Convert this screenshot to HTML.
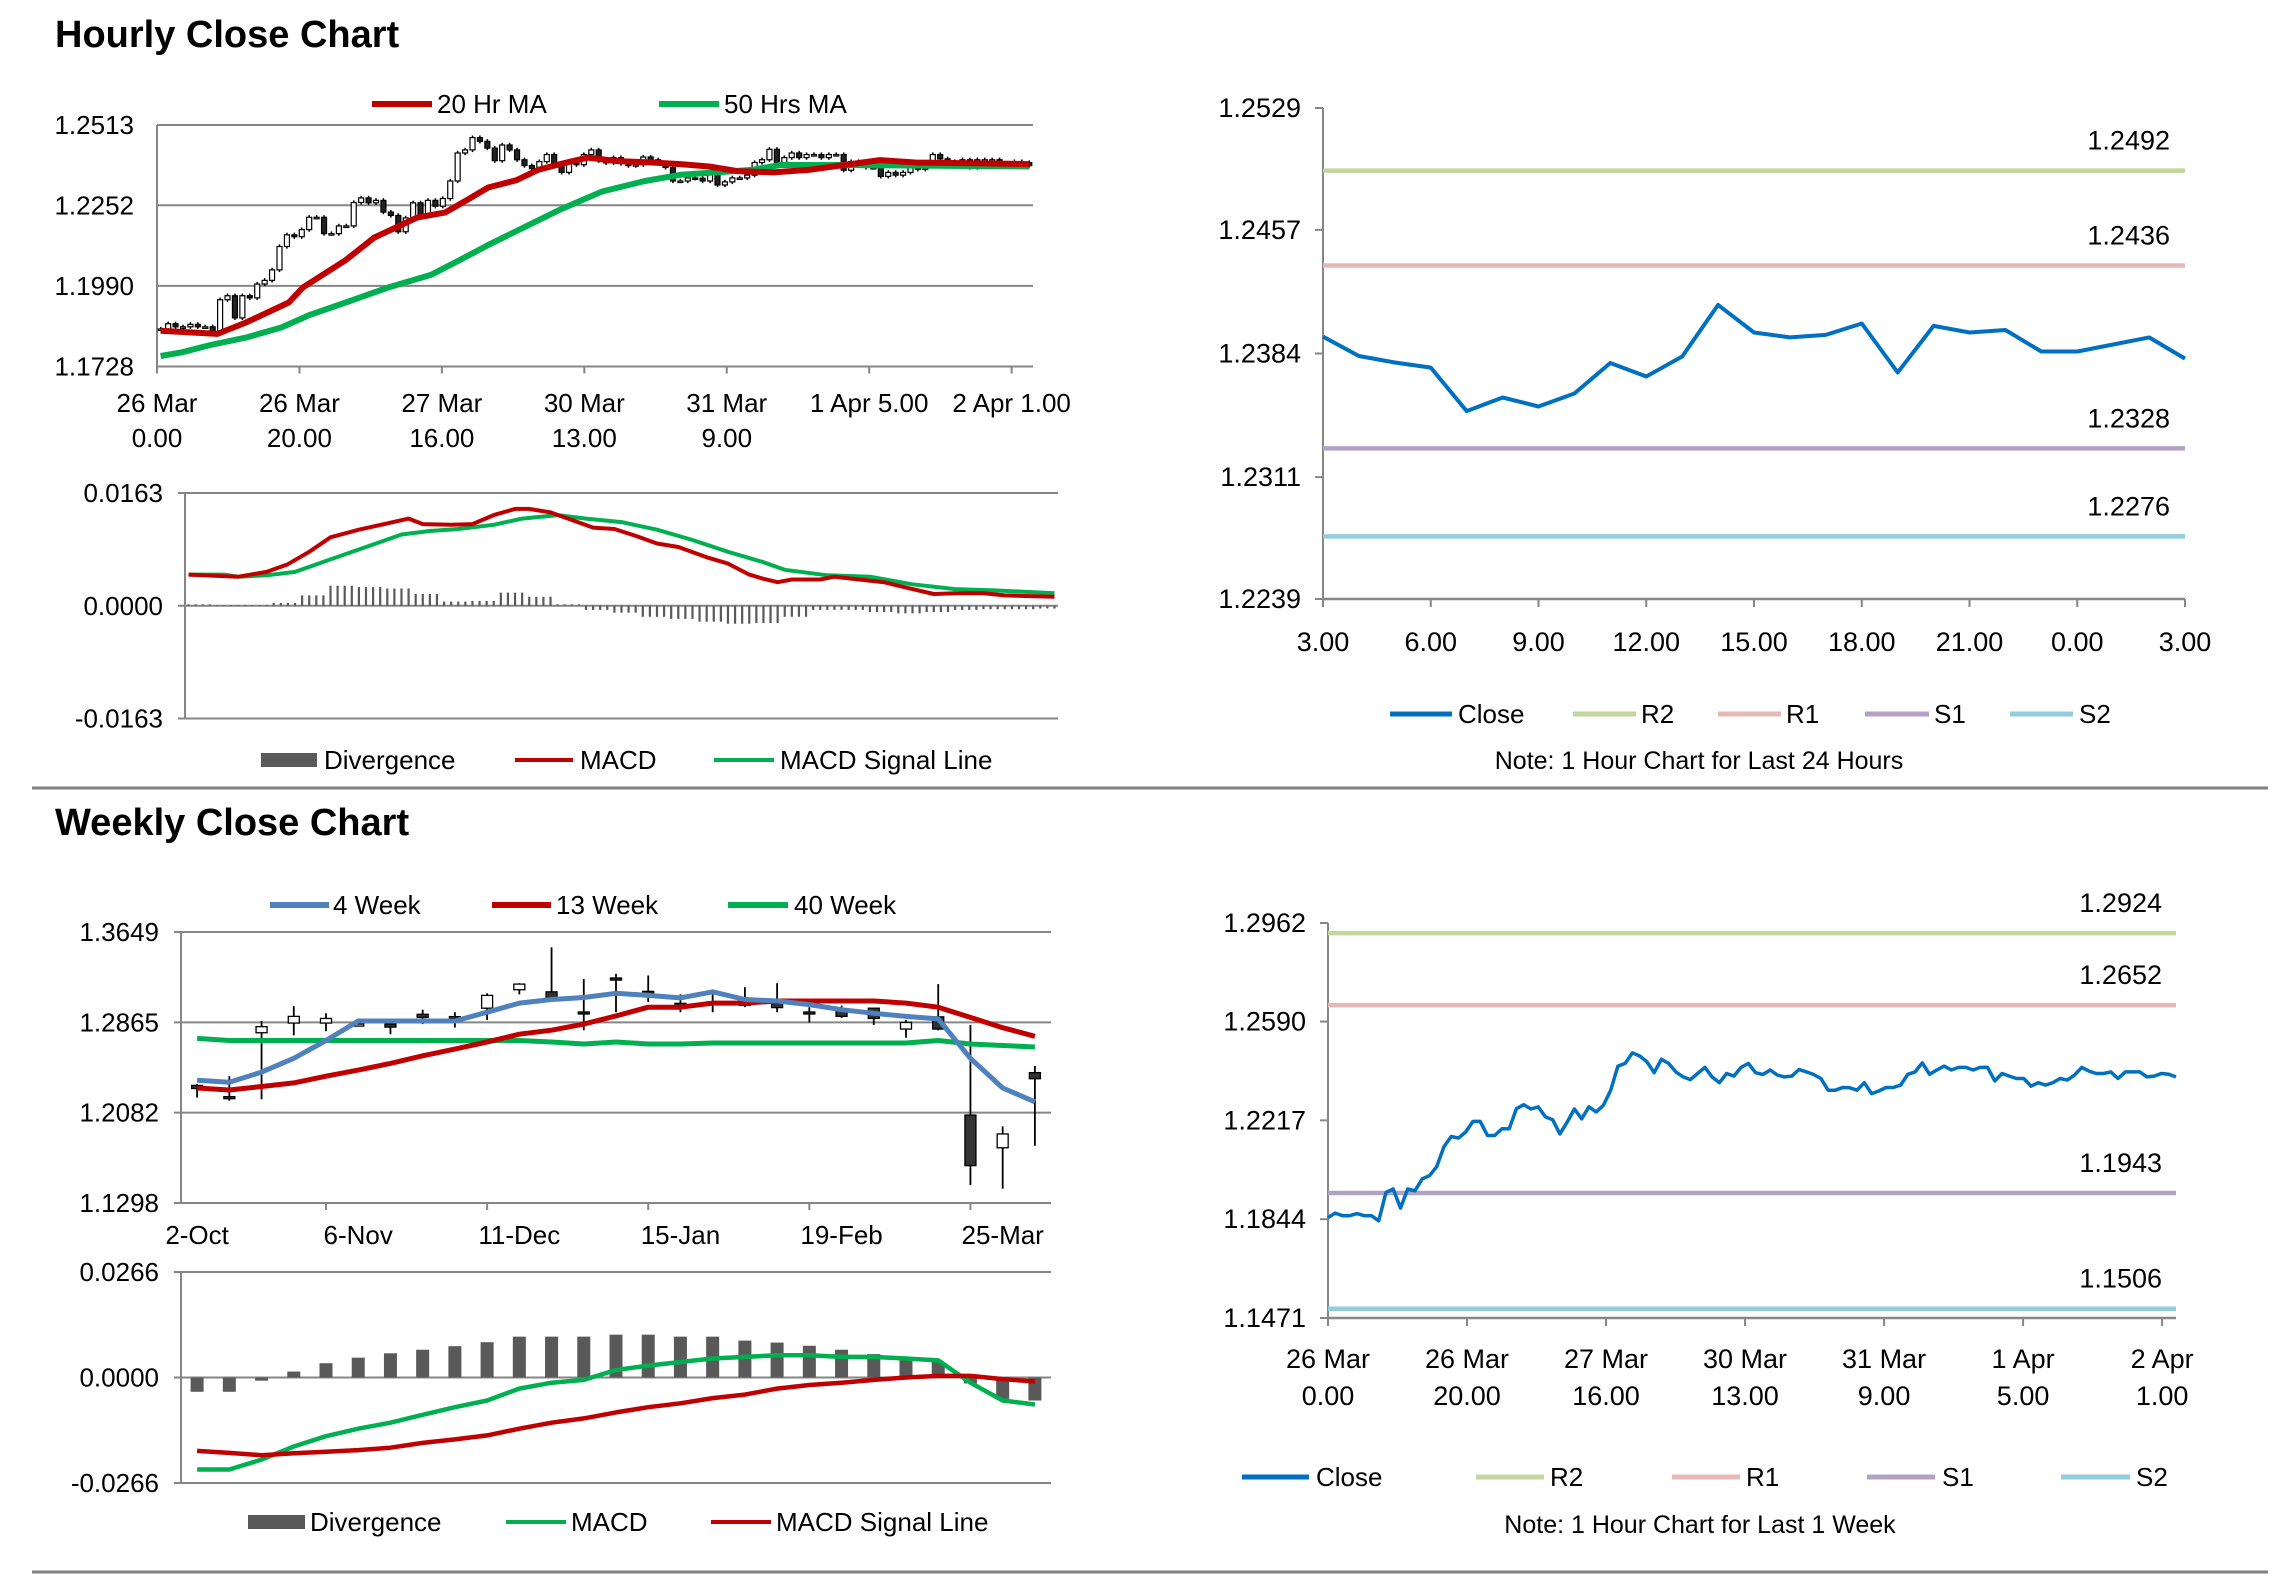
<!DOCTYPE html>
<html><head><meta charset="utf-8"><style>
html,body{margin:0;padding:0;background:#fff;}
svg{display:block;font-family:"Liberation Sans",Arial,sans-serif;}
</style></head><body>
<svg id="root" xmlns="http://www.w3.org/2000/svg" width="2291" height="1577" viewBox="0 0 2291 1577">
<rect x="0" y="0" width="2291" height="1577" fill="#fff"/>
<text x="55" y="47" font-size="38" font-weight="bold" fill="#000">Hourly Close Chart</text>
<text x="55" y="835" font-size="38" font-weight="bold" fill="#000">Weekly Close Chart</text>
<line x1="32" y1="788" x2="2268" y2="788" stroke="#808080" stroke-width="3"/>
<line x1="32" y1="1572" x2="2268" y2="1572" stroke="#808080" stroke-width="3"/>

<g font-size="26" fill="#000">
<line x1="372" y1="104" x2="432" y2="104" stroke="#C00000" stroke-width="6"/>
<text x="437" y="113">20 Hr MA</text>
<line x1="659" y1="104" x2="719" y2="104" stroke="#00B050" stroke-width="6"/>
<text x="724" y="113">50 Hrs MA</text>
<rect x="261" y="753" width="56" height="14" fill="#595959"/>
<text x="324" y="769">Divergence</text>
<line x1="515" y1="760" x2="573" y2="760" stroke="#C00000" stroke-width="4"/>
<text x="580" y="769">MACD</text>
<line x1="714" y1="760" x2="774" y2="760" stroke="#00B050" stroke-width="4"/>
<text x="780" y="769">MACD Signal Line</text>
<line x1="1390" y1="714" x2="1452" y2="714" stroke="#0070C0" stroke-width="5"/>
<text x="1458" y="723">Close</text>
<line x1="1573" y1="714" x2="1636" y2="714" stroke="#C3D69B" stroke-width="5"/>
<text x="1641" y="723">R2</text>
<line x1="1718" y1="714" x2="1781" y2="714" stroke="#E6B9B8" stroke-width="5"/>
<text x="1786" y="723">R1</text>
<line x1="1865" y1="714" x2="1929" y2="714" stroke="#B3A2C7" stroke-width="5"/>
<text x="1934" y="723">S1</text>
<line x1="2010" y1="714" x2="2073" y2="714" stroke="#93CDDD" stroke-width="5"/>
<text x="2079" y="723">S2</text>
<text x="1699" y="769" text-anchor="middle" font-size="25">Note: 1 Hour Chart for Last 24 Hours</text>
<line x1="270" y1="905" x2="329" y2="905" stroke="#4F81BD" stroke-width="6"/>
<text x="333" y="914">4 Week</text>
<line x1="492" y1="905" x2="551" y2="905" stroke="#C00000" stroke-width="6"/>
<text x="556" y="914">13 Week</text>
<line x1="728" y1="905" x2="788" y2="905" stroke="#00B050" stroke-width="6"/>
<text x="794" y="914">40 Week</text>
<rect x="248" y="1515" width="57" height="14" fill="#595959"/>
<text x="310" y="1531">Divergence</text>
<line x1="506" y1="1522" x2="566" y2="1522" stroke="#00B050" stroke-width="4"/>
<text x="571" y="1531">MACD</text>
<line x1="711" y1="1522" x2="771" y2="1522" stroke="#C00000" stroke-width="4"/>
<text x="776" y="1531">MACD Signal Line</text>
<line x1="1242" y1="1477" x2="1309" y2="1477" stroke="#0070C0" stroke-width="5"/>
<text x="1316" y="1486">Close</text>
<line x1="1476" y1="1477" x2="1544" y2="1477" stroke="#C3D69B" stroke-width="5"/>
<text x="1550" y="1486">R2</text>
<line x1="1672" y1="1477" x2="1740" y2="1477" stroke="#E6B9B8" stroke-width="5"/>
<text x="1746" y="1486">R1</text>
<line x1="1867" y1="1477" x2="1935" y2="1477" stroke="#B3A2C7" stroke-width="5"/>
<text x="1942" y="1486">S1</text>
<line x1="2061" y1="1477" x2="2130" y2="1477" stroke="#93CDDD" stroke-width="5"/>
<text x="2136" y="1486">S2</text>
<text x="1700" y="1533" text-anchor="middle" font-size="25">Note: 1 Hour Chart for Last 1 Week</text>
</g>
<g id="charts"></g>
</svg>
<script>
const weekClose = [1.1850,1.1867,1.1857,1.1857,1.1865,1.1857,1.1857,1.1838,1.1945,1.1958,1.1886,1.1958,1.1951,1.1996,1.2008,1.2042,1.2118,1.2156,1.2150,1.2173,1.2213,1.2213,1.2160,1.2160,1.2185,1.2185,1.2261,1.2276,1.2260,1.2268,1.2230,1.2219,1.2166,1.2211,1.2260,1.2223,1.2268,1.2249,1.2274,1.2331,1.2422,1.2432,1.2472,1.2460,1.2438,1.2397,1.2448,1.2432,1.2400,1.2381,1.2371,1.2394,1.2417,1.2381,1.2359,1.2394,1.2384,1.2417,1.2432,1.2397,1.2390,1.2407,1.2388,1.2381,1.2384,1.2409,1.2400,1.2390,1.2375,1.2331,1.2331,1.2341,1.2340,1.2331,1.2359,1.2318,1.2328,1.2341,1.2341,1.2350,1.2391,1.2400,1.2434,1.2391,1.2407,1.2422,1.2407,1.2417,1.2417,1.2407,1.2417,1.2417,1.2366,1.2394,1.2384,1.2375,1.2375,1.2346,1.2359,1.2350,1.2359,1.2375,1.2369,1.2388,1.2417,1.2403,1.2394,1.2394,1.2400,1.2375,1.2400,1.2400,1.2400,1.2381,1.2384,1.2394,1.2391,1.2381];
const hourSlots = 123;
const hourTickLabels = [["26 Mar","0.00"],["26 Mar","20.00"],["27 Mar","16.00"],["30 Mar","13.00"],["31 Mar","9.00"],["1 Apr 5.00",""],["2 Apr 1.00",""]];
const hourTickIdx = [0,20,40,60,80,100,120];
const ma20Idx = [0,8,12,18,20,26,30,36,40,43,46,50,53,57,60,64,69,73,77,81,86,91,96,101,106,122];
const ma20Val = [1.1844,1.1834,1.1871,1.1936,1.1985,1.2074,1.2147,1.2212,1.2229,1.2269,1.2310,1.2334,1.2367,1.2391,1.2407,1.2396,1.2391,1.2386,1.2378,1.2363,1.2359,1.2367,1.2383,1.2399,1.2391,1.2386];
const ma50Idx = [0,3,7,12,17,21,26,32,38,42,46,51,56,62,68,73,78,83,87,96,122];
const ma50Val = [1.1762,1.1774,1.1798,1.1822,1.1855,1.1896,1.1936,1.1985,1.2026,1.2074,1.2123,1.2180,1.2237,1.2297,1.2331,1.2351,1.2359,1.2367,1.2383,1.2383,1.2378];
const hourYTicks = [1.2513,1.2252,1.1990,1.1728];
const hMacdIdx = [0,7,11,14,17,20,24,31,33,37,40,43,46,48,51,54,57,60,63,66,69,73,76,79,81,83,85,89,91,98,102,105,108,112,115,122];
const hMacdVal = [0.0045,0.0042,0.0049,0.0060,0.0078,0.0099,0.0110,0.0126,0.0118,0.0117,0.0118,0.0131,0.0140,0.0140,0.0135,0.0124,0.0113,0.0111,0.0101,0.0090,0.0085,0.0070,0.0061,0.0045,0.0039,0.0034,0.0038,0.0038,0.0042,0.0034,0.0024,0.0017,0.0018,0.0018,0.0015,0.0013];
const hSigIdx = [0,5,7,11,15,20,25,30,34,38,43,47,52,56,61,66,71,76,81,84,90,96,102,108,114,122];
const hSigVal = [0.0045,0.0045,0.0042,0.0044,0.0049,0.0067,0.0085,0.0103,0.0108,0.0111,0.0117,0.0126,0.0131,0.0126,0.0121,0.0110,0.0095,0.0078,0.0063,0.0052,0.0044,0.0042,0.0031,0.0024,0.0022,0.0018];
const hDivVal = [0.0002,0.0001,0.0001,0.0004,0.0015,0.0029,0.0027,0.0025,0.0017,0.0006,0.0007,0.0019,0.0013,0.0002,-0.0006,-0.0010,-0.0016,-0.0019,-0.0023,-0.0026,-0.0025,-0.0016,-0.0006,-0.0006,-0.0009,-0.0011,-0.0009,-0.0006,-0.0005,-0.0005,-0.0004];
const hMacdTicks = [0.0163,0.0000,-0.0163];

const dayClose = [1.2394,1.23825,1.23787,1.23757,1.2350,1.2358,1.23527,1.23604,1.23784,1.23704,1.23822,1.24127,1.23964,1.23935,1.2395,1.24017,1.23728,1.24003,1.23964,1.23979,1.23852,1.23852,1.23893,1.23935,1.2381];
const dayTicks = ["3.00","6.00","9.00","12.00","15.00","18.00","21.00","0.00","3.00"];
const dayYTicks = [1.2529,1.2457,1.2384,1.2311,1.2239];
const dayLevels = [1.2492,1.2436,1.2328,1.2276];
const dayLevelLabels = ["1.2492","1.2436","1.2328","1.2276"];

const wkLabels = ["2-Oct","6-Nov","11-Dec","15-Jan","19-Feb","25-Mar"];
const wkLabelIdx = [0,5,10,15,20,25];
const wkOpen  = [1.2318,1.2221,1.2775,1.2859,1.2859,1.2850,1.2850,1.2935,1.2915,1.2988,1.3148,1.3130,1.2955,1.3250,1.3134,1.3030,1.3043,1.3030,1.3032,1.2955,1.2975,1.2988,1.2807,1.2913,1.2061,1.1777,1.2429];
const wkHigh  = [1.2331,1.2398,1.2877,1.3006,1.2944,1.2886,1.2859,1.2975,1.2953,1.3117,1.3205,1.3516,1.3241,1.3286,1.3272,1.3108,1.3108,1.3170,1.3205,1.3019,1.3010,1.2988,1.2886,1.3197,1.2842,1.1963,1.2487];
const wkLow   = [1.2212,1.2185,1.2198,1.2753,1.2788,1.2833,1.2762,1.2850,1.2820,1.2886,1.3108,1.3063,1.2796,1.2953,1.3041,1.2953,1.2953,1.2997,1.2953,1.2864,1.2904,1.2842,1.2732,1.2796,1.1453,1.1422,1.1795];
const wkCloseC= [1.2291,1.2203,1.2828,1.2917,1.2899,1.2850,1.2824,1.2908,1.2910,1.3099,1.3197,1.3077,1.2953,1.3232,1.3117,1.3028,1.3041,1.3028,1.2993,1.2953,1.2917,1.2899,1.2864,1.2807,1.1622,1.1897,1.2376];
const ma4  = [1.2363,1.2345,1.2434,1.2553,1.2708,1.2877,1.2877,1.2877,1.2877,1.2953,1.3032,1.3063,1.3081,1.3117,1.3099,1.3077,1.3130,1.3063,1.3050,1.3019,1.2975,1.2944,1.2917,1.2895,1.2553,1.2296,1.2176];
const ma13 = [1.2296,1.2278,1.2309,1.2340,1.2398,1.2451,1.2509,1.2575,1.2633,1.2695,1.2762,1.2797,1.2850,1.2921,1.2997,1.2997,1.3032,1.3032,1.3050,1.3050,1.3050,1.3050,1.3032,1.2997,1.2908,1.2819,1.2744];
const ma40 = [1.2726,1.2708,1.2708,1.2708,1.2708,1.2708,1.2708,1.2708,1.2708,1.2708,1.2708,1.2695,1.2677,1.2695,1.2677,1.2677,1.2686,1.2686,1.2686,1.2686,1.2686,1.2686,1.2686,1.2708,1.2677,1.2664,1.2651];
const wkYTicks = [1.3649,1.2865,1.2082,1.1298];
const wDiv = [-0.0036,-0.0036,-0.0008,0.0015,0.0036,0.0050,0.0061,0.0070,0.0079,0.0089,0.0103,0.0103,0.0103,0.0108,0.0108,0.0103,0.0103,0.0093,0.0088,0.0080,0.0070,0.0059,0.0049,0.0039,-0.0015,-0.0054,-0.0058];
const wMacd = [-0.0232,-0.0232,-0.0207,-0.0174,-0.0148,-0.0129,-0.0114,-0.0094,-0.0075,-0.0058,-0.0028,-0.0013,-0.0006,0.0019,0.0030,0.0039,0.0048,0.0052,0.0056,0.0056,0.0052,0.0052,0.0048,0.0043,-0.0013,-0.0058,-0.0068];
const wSig = [-0.0185,-0.0190,-0.0196,-0.0191,-0.0187,-0.0183,-0.0177,-0.0165,-0.0156,-0.0146,-0.0129,-0.0114,-0.0103,-0.0088,-0.0075,-0.0065,-0.0052,-0.0043,-0.0028,-0.0019,-0.0013,-0.0006,0.0000,0.0004,0.0004,-0.0004,-0.0010];
const wMacdTicks = [0.0266,0.0000,-0.0266];

const wcTicks = [["26 Mar","0.00"],["26 Mar","20.00"],["27 Mar","16.00"],["30 Mar","13.00"],["31 Mar","9.00"],["1 Apr","5.00"],["2 Apr","1.00"]];
const wcTickIdx = [0,20,40,60,80,100,120];
const wcYTicks = [1.2962,1.2590,1.2217,1.1844,1.1471];
const wcLevels = [1.2924,1.2652,1.1943,1.1506];
const wcLevelLabels = ["1.2924","1.2652","1.1943","1.1506"];

const NS = "http://www.w3.org/2000/svg";
const root = document.getElementById('charts');
function mk(tag, attrs, parent){ const e=document.createElementNS(NS,tag); for(const k in attrs) e.setAttribute(k,attrs[k]); (parent||root).appendChild(e); return e; }
function lin(d0,d1,r0,r1){ return v => r0 + (v-d0)/(d1-d0)*(r1-r0); }
function pathD(xs,ys){ return xs.map((x,i)=>(i?'L':'M')+x.toFixed(1)+','+ys[i].toFixed(1)).join(''); }
const GRID='#868686';

// hourly candles
{
  const g = mk('g',{});
  
  
  const N = weekClose.length;
  const L=157,R=1033,T=125,B=366.5;
  const y = lin(1.2513,1.1728,T,B);
  const xc = i => L + (i+0.5)*(R-L)/N;
  const xs = i => L + (i+0.5)*(R-L)/hourSlots;
  hourYTicks.forEach(v=>{
    const gl = mk('line',{x1:L,x2:R,y1:y(v),y2:y(v),stroke:GRID,'stroke-width':2},g);
    
    
    const t = mk('text',{x:L-23,y:y(v)+9,'text-anchor':'end','font-size':26},g);
    t.textContent = v.toFixed(4);
    
    
  });
  const ax = mk('line',{x1:L,x2:L,y1:T,y2:B+7,stroke:GRID,'stroke-width':2},g);
  
  
  hourTickIdx.forEach((ti,k)=>{
    const xx = L + ti*(R-L)/hourSlots;
    const tk = mk('line',{x1:xx,x2:xx,y1:B,y2:B+7,stroke:GRID,'stroke-width':2},g);
    
    
    hourTickLabels[k].forEach((s,j)=>{
      if(!s) return;
      const t = mk('text',{x:xx,y:412+j*35,'text-anchor':'middle','font-size':26},g);
      t.textContent = s;
      
      
    });
  });
  for(let i=0;i<N;i++){
    const c = weekClose[i], o = i? weekClose[i-1] : c;
    const hi = Math.max(o,c)+0.0007, lo = Math.min(o,c)-0.0007;
    const w = mk('line',{x1:xc(i),x2:xc(i),y1:y(hi),y2:y(lo),stroke:'#000','stroke-width':1.5},g);
    
    
    const top=y(Math.max(o,c)), bot=y(Math.min(o,c));
    const b = mk('rect',{x:xc(i)-2.5,y:top,width:5,height:Math.max(bot-top,1.5),fill:c>=o?'#fff':'#222',stroke:'#000','stroke-width':1.2},g);
    
    
  }
  const p50 = mk('path',{d:pathD(ma50Idx.map(xs),ma50Val.map(y)),fill:'none',stroke:'#00B050','stroke-width':6,'stroke-linejoin':'round'},g);
  
  
  const p20 = mk('path',{d:pathD(ma20Idx.map(xs),ma20Val.map(y)),fill:'none',stroke:'#C00000','stroke-width':6,'stroke-linejoin':'round'},g);
  
  
}

// hourly MACD
{
  const g = mk('g',{});
  
  
  const L=185,R=1058;
  const y = lin(0.0163,-0.0163,493,718.5);
  const x = i => L + (i+0.5)*(R-L)/hourSlots;
  hMacdTicks.forEach(v=>{
    const gl = mk('line',{x1:L-7,x2:R,y1:y(v),y2:y(v),stroke:GRID,'stroke-width':2},g);
    
    
    const t = mk('text',{x:L-22,y:y(v)+9,'text-anchor':'end','font-size':26},g);
    t.textContent = v.toFixed(4);
    
    
  });
  const ax = mk('line',{x1:L,x2:L,y1:493,y2:718.5,stroke:GRID,'stroke-width':2},g);
  
  
  hDivVal.forEach((v,k)=>{
    for(let j=0;j<4;j++){
      const i = k*4+j; if(i>=hourSlots) break;
      const b = mk('line',{x1:x(i),x2:x(i),y1:y(0),y2:y(v),stroke:'#595959','stroke-width':2.2},g);
      
      
    }
  });
  const ps = mk('path',{d:pathD(hSigIdx.map(x),hSigVal.map(y)),fill:'none',stroke:'#00B050','stroke-width':4,'stroke-linejoin':'round'},g);
  
  
  const pm = mk('path',{d:pathD(hMacdIdx.map(x),hMacdVal.map(y)),fill:'none',stroke:'#C00000','stroke-width':4,'stroke-linejoin':'round'},g);
  
  
}

function pivotChart(cfg){
  const g = mk('g',{});
  
  
  const {L,R,T,B} = cfg;
  const y = lin(cfg.yTicks[0],cfg.yTicks[cfg.yTicks.length-1],T,B);
  cfg.yTicks.forEach(v=>{
    const tk = mk('line',{x1:L-8,x2:L,y1:y(v),y2:y(v),stroke:GRID,'stroke-width':2},g);
    
    
    const t = mk('text',{x:L-22,y:y(v)+9,'text-anchor':'end','font-size':27},g);
    t.textContent = v.toFixed(4);
    
    
  });
  const ax = mk('line',{x1:L,x2:L,y1:T,y2:B,stroke:GRID,'stroke-width':2},g);
  
  
  const xa = mk('line',{x1:L,x2:R,y1:B,y2:B,stroke:GRID,'stroke-width':2.5},g);
  
  
  const cols=['#C3D69B','#E6B9B8','#B3A2C7','#93CDDD'];
  cfg.levels.forEach((v,k)=>{
    const l = mk('line',{x1:L,x2:R,y1:y(v),y2:y(v),stroke:cols[k],'stroke-width':4.5},g);
    
    
    const t = mk('text',{x:cfg.labelX,y:y(v)-cfg.labelGap,'text-anchor':'end','font-size':27},g);
    t.textContent = cfg.levelLabels[k];
    
    
  });
  const n = cfg.data.length;
  const x = i => L + i*(cfg.xEnd-L)/(n-1);
  cfg.tickIdx.forEach((ti,k)=>{
    const xx = L + ti*(cfg.xEnd-L)/(cfg.tickDen);
    const tk = mk('line',{x1:xx,x2:xx,y1:B,y2:B+8,stroke:GRID,'stroke-width':2},g);
    
    
    cfg.tickLabels[k].forEach((s,j)=>{
      const t = mk('text',{x:xx,y:cfg.lblY+j*37,'text-anchor':'middle','font-size':27},g);
      t.textContent = s;
      
      
    });
  });
  const p = mk('path',{d:pathD(cfg.data.map((v,i)=>x(i)),cfg.data.map(y)),fill:'none',stroke:'#0070C0','stroke-width':cfg.lw,'stroke-linejoin':'round'},g);
  
  
}
pivotChart({name:'close-24h-chart',L:1323,R:2185,T:108,B:599,xEnd:2185,yTicks:dayYTicks,levels:dayLevels,levelLabels:dayLevelLabels,labelX:2170,labelGap:21,data:dayClose,tickIdx:[0,3,6,9,12,15,18,21,24],tickDen:24,tickLabels:dayTicks.map(s=>[s]),lblY:651,lw:4});
pivotChart({name:'close-1week-chart',L:1328,R:2176,T:923,B:1318,xEnd:2176,yTicks:wcYTicks,levels:wcLevels,levelLabels:wcLevelLabels,labelX:2162,labelGap:21,data:weekClose,tickIdx:wcTickIdx,tickDen:hourSlots-1,tickLabels:wcTicks,lblY:1368,lw:3.5});

// weekly candles
{
  const g = mk('g',{});
  
  
  const N = wkOpen.length, L=181, R=1051, T=932, B=1203;
  const y = lin(1.3649,1.1298,T,B);
  const bw = (R-L)/N;
  const x = i => L + (i+0.5)*bw;
  wkYTicks.forEach(v=>{
    const gl = mk('line',{x1:L-7,x2:R,y1:y(v),y2:y(v),stroke:GRID,'stroke-width':2},g);
    
    
    const t = mk('text',{x:L-22,y:y(v)+9,'text-anchor':'end','font-size':26},g);
    t.textContent = v.toFixed(4);
    
    
  });
  const ax = mk('line',{x1:L,x2:L,y1:T,y2:B,stroke:GRID,'stroke-width':2},g);
  
  
  wkLabelIdx.forEach((ti,k)=>{
    if(ti+5<=N){
      const tx = L+(ti+4.5)*bw;
      const tk = mk('line',{x1:tx, x2:tx, y1:B, y2:B+7, stroke:GRID,'stroke-width':2},g);
      
      
    }
    const t = mk('text',{x:x(ti),y:1244,'text-anchor':'middle','font-size':26},g);
    t.textContent = wkLabels[k];
    
    
  });
  for(let i=0;i<N;i++){
    const w = mk('line',{x1:x(i),x2:x(i),y1:y(wkHigh[i]),y2:y(wkLow[i]),stroke:'#000','stroke-width':1.8},g);
    
    
    const o=wkOpen[i], c=wkCloseC[i];
    const top=y(Math.max(o,c)), bot=y(Math.min(o,c));
    const b = mk('rect',{x:x(i)-5.5,y:top,width:11,height:Math.max(bot-top,2),fill:c>=o?'#fff':'#333',stroke:'#000','stroke-width':1.3},g);
    
    
  }
  const xs = wkOpen.map((v,i)=>x(i));
  const p40 = mk('path',{d:pathD(xs,ma40.map(y)),fill:'none',stroke:'#00B050','stroke-width':5,'stroke-linejoin':'round'},g);
  
  
  const p13 = mk('path',{d:pathD(xs,ma13.map(y)),fill:'none',stroke:'#C00000','stroke-width':5,'stroke-linejoin':'round'},g);
  
  
  const p4 = mk('path',{d:pathD(xs,ma4.map(y)),fill:'none',stroke:'#4F81BD','stroke-width':5,'stroke-linejoin':'round'},g);
  
  
}

// weekly MACD
{
  const g = mk('g',{});
  
  
  const N = wDiv.length, L=181, R=1051;
  const y = lin(0.0266,-0.0266,1272,1483);
  const bw=(R-L)/N;
  const x = i => L + (i+0.5)*bw;
  wMacdTicks.forEach(v=>{
    const gl = mk('line',{x1:L-7,x2:R,y1:y(v),y2:y(v),stroke:GRID,'stroke-width':2},g);
    
    
    const t = mk('text',{x:L-22,y:y(v)+9,'text-anchor':'end','font-size':26},g);
    t.textContent = v.toFixed(4);
    
    
  });
  const ax = mk('line',{x1:L,x2:L,y1:1272,y2:1483,stroke:GRID,'stroke-width':2},g);
  
  
  wDiv.forEach((v,i)=>{
    const b = mk('rect',{x:x(i)-6.5,y:Math.min(y(0),y(v)),width:13,height:Math.abs(y(v)-y(0)),fill:'#595959'},g);
    
    
  });
  const xs = wDiv.map((v,i)=>x(i));
  const pm = mk('path',{d:pathD(xs,wMacd.map(y)),fill:'none',stroke:'#00B050','stroke-width':4.5,'stroke-linejoin':'round'},g);
  
  
  const ps = mk('path',{d:pathD(xs,wSig.map(y)),fill:'none',stroke:'#C00000','stroke-width':4.5,'stroke-linejoin':'round'},g);
  
  
}
</script>
</body></html>
